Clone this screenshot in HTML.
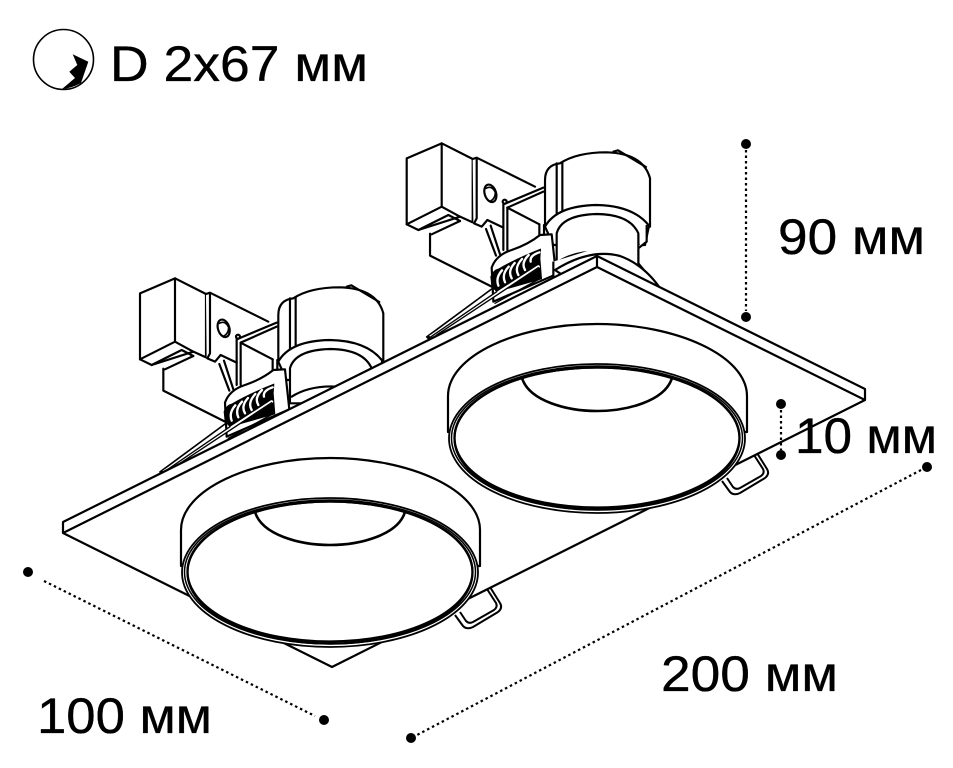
<!DOCTYPE html>
<html><head><meta charset="utf-8"><style>
html,body{margin:0;padding:0;background:#fff;width:953px;height:768px;overflow:hidden}
svg{display:block}
text{font-family:"Liberation Sans",sans-serif;fill:#000;font-size:50px;stroke:#000;stroke-width:.35px}
</style></head><body>
<svg width="953" height="768" viewBox="0 0 953 768" xmlns="http://www.w3.org/2000/svg">
<defs>
<g id="fx" fill="#fff" stroke="#000" stroke-width="6.5" stroke-linejoin="round" stroke-linecap="round">
  <!-- lower block -->
  <path d="M100,290 V362 L285,455 L440,340 L230,262 Z" stroke="none"/>
  <path d="M100,296 V362 L285,455" fill="none"/>
  <path d="M105,298 L190,258" fill="none"/>
  <!-- box -->
  <path d="M30,70 L135,25 L228,72 V262 L190,245 L65,285 L30,268 Z"/>
  <path d="M135,25 V215 M30,268 L135,215 L190,245" fill="none"/>
  <path d="M65,285 L155,240 L190,258" fill="none"/>
  <!-- bracket -->
  <path d="M228,72 L240,68 L415,155 L442,165 V275 L345,275 L275,255 L255,275 L230,265 Z" stroke="none"/>
  <path d="M228,72 L240,68 L415,155 M240,68 V250 L232,265 L255,275 L272,255 L320,278" fill="none"/>
  <ellipse cx="281" cy="175" rx="17" ry="27" transform="rotate(-18 281 175)"/>
  <path d="M268,160 Q285,150 296,172 Q296,190 282,198" fill="none" stroke-width="5"/>
  <path d="M268,282 L298,362 M282,272 L310,358" fill="none"/>
  <path d="M332,218 L428,268" fill="none"/>
  <!-- can -->
  <path d="M445,135 Q445,90 490,85 Q540,52 630,52 Q740,55 760,130 V275 H445 Z"/>
  <path d="M650,50 L664,46 L748,96" fill="none"/>
  <path d="M480,85 V245 M497,82 V238" fill="none"/>
  <path d="M445,275 Q480,212 600,210 Q710,212 757,272 L745,330 L470,330 Z"/>
  <path d="M480,345 V295 Q495,240 600,237 Q700,238 725,295 V400 H480 Z"/>
  <path d="M485,380 Q540,345 625,350" fill="none"/>
  <!-- rod -->
  <path d="M320,345 V208 L440,158 M332,345 V218 L440,170" fill="none"/>
  <path d="M428,268 V300 M442,270 V298" fill="none"/>
  <circle cx="324" cy="200" r="6"/>
  <!-- cover -->
  <path d="M285,398 Q298,360 345,345 Q395,328 430,300 L465,298 L478,418 L290,500 Z"/>
  <!-- coil -->
  <path d="M282,425 Q290,405 305,402 Q360,370 432,342 L430,370 L435,432 L300,470 L285,455 Z" fill="#000" stroke-width="2"/>
  <path d="M305,452 Q296,428 316,406 M325,442 Q314,418 336,395 M345,430 Q332,408 354,384 M365,420 Q352,398 376,372 M385,405 Q372,384 396,360 M402,380 Q398,362 428,352" fill="none" stroke="#fff" stroke-width="7"/>
  <!-- wires -->
  <path d="M90,606 L285,462 M96,612 L298,478" fill="none" stroke-width="5"/>
  <path d="M100,606 L425,395" fill="none" stroke="#fff" stroke-width="9"/>
  <path d="M96,610 L300,470 M120,600 L425,398" fill="none" stroke-width="4"/>
  <path d="M295,505 L428,432" fill="none" stroke-width="4"/>
  <circle cx="95" cy="607" r="5" fill="#000" stroke="none"/>
</g>
<g id="ring" stroke="#000" fill="#fff" stroke-linejoin="round">
  <path d="M181,566 V530 C181,490 250,458 330,458 C410,458 480,490 480,530 V566 Z" stroke-width="2.2"/>
  <ellipse cx="330" cy="572.5" rx="148" ry="74.5" stroke-width="1.8"/>
  <ellipse cx="330" cy="572" rx="145.5" ry="72" stroke-width="1.5"/>
  <ellipse cx="330" cy="571.5" rx="142.5" ry="70" stroke-width="2.2"/>
  <ellipse cx="330" cy="572.5" rx="142.5" ry="71" stroke-width="2.2" fill="none"/>
  <path d="M255,512 C262,535 300,545 330,545 C360,545 398,535 405,512" fill="none" stroke-width="2.6"/>
</g>
<g id="tab" fill="#fff" stroke="#000" stroke-width="2" stroke-linejoin="round">
  <path d="M455,615 L463,626 Q467,630 473,627 L498,612 Q503,608 500,603 L490,587" fill="none"/>
  <path d="M460,612 L466,621 Q469,624 473,622 L494,610 Q498,607 496,603 L487,589" fill="none"/>
</g>
</defs>

<!-- icon -->
<circle cx="63.5" cy="59.5" r="30" fill="#fff" stroke="#000" stroke-width="1.6"/>
<path d="M72.7,54.3 L88.3,61.7 L81,83 Q72,88 61.7,89.3 L75,78 L69.3,71.7 L77.3,65 Z" fill="#000"/>
<text x="110" y="81" textLength="258" lengthAdjust="spacingAndGlyphs">D 2x67 мм</text>

<!-- fixtures -->
<g transform="translate(130,270) scale(.3333)"><use href="#fx"/></g>
<g transform="translate(396.7,135) scale(.3333)"><use href="#fx"/>
  <path d="M725,300 V385 L795,470 H470 V380" fill="#fff" stroke="#000" stroke-width="6.5"/>
  <path d="M750,270 V320 L725,340" fill="#fff" stroke="#000" stroke-width="6.5"/>
</g>
<path d="M555,270 Q590,248 620,256 Q645,265 662,291 L600,300 Z" fill="#fff" stroke="#000" stroke-width="2.2"/>

<!-- tabs behind the plate -->
<use href="#tab"/>
<use href="#tab" transform="translate(267,-134)"/>

<!-- plate -->
<path d="M63,522 L597,256 L865,389 V400 L332,667 L63,533 Z" fill="#fff" stroke="#000" stroke-width="2.2" stroke-linejoin="round"/>
<path d="M63,533 L597,267 L865,400 M597,256 V267" fill="none" stroke="#000" stroke-width="2.2"/>

<!-- rings -->
<use href="#ring" transform="translate(267,-134)"/>
<use href="#ring"/>

<!-- dimensions -->
<g stroke="#000" stroke-width="2.2" stroke-dasharray="2.5 3" fill="none">
  <path d="M746,150 V311"/>
  <path d="M781,410 V450"/>
  <path d="M921,470 L417,735"/>
  <path d="M44,581 L315,716"/>
</g>
<g fill="#000">
  <circle cx="746" cy="144" r="5"/><circle cx="746" cy="317" r="5"/>
  <circle cx="781" cy="404" r="5"/><circle cx="781" cy="455" r="5"/>
  <circle cx="927" cy="467" r="5"/><circle cx="411" cy="738" r="5"/>
  <circle cx="28" cy="572" r="5"/><circle cx="324" cy="720" r="5"/>
</g>
<text x="778" y="254" textLength="147" lengthAdjust="spacingAndGlyphs">90 мм</text>
<text x="795" y="453" textLength="142" lengthAdjust="spacingAndGlyphs">10 мм</text>
<text x="661" y="691" textLength="177" lengthAdjust="spacingAndGlyphs">200 мм</text>
<text x="37" y="733" textLength="175" lengthAdjust="spacingAndGlyphs">100 мм</text>
</svg>
</body></html>
